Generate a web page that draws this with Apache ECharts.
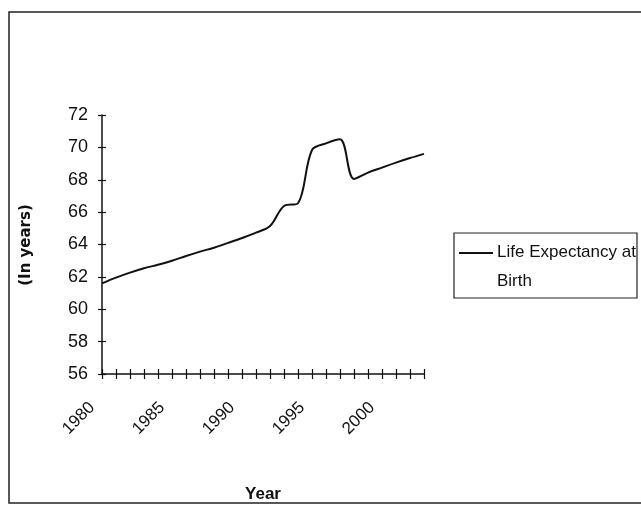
<!DOCTYPE html>
<html>
<head>
<meta charset="utf-8">
<script src="https://cdn.jsdelivr.net/npm/echarts@6/dist/echarts.min.js"></script>
<style>
  html, body { margin: 0; padding: 0; background: #fff; }
  #chart { width: 641px; height: 517px; }
</style>
</head>
<body>
<div id="chart"></div>
<script>
// Years on the category axis
const years = ['1980','1981','1982','1983','1984','1985','1986','1987','1988','1989',
  '1990','1991','1992','1993','1994','1995','1996','1997','1998','1999',
  '2000','2001','2002','2003'];

// Life expectancy at birth (in years)
const lifeExpectancy = [61.6, 61.95, 62.26, 62.53, 62.75, 63.0, 63.29, 63.56, 63.8, 64.1,
  64.4, 64.73, 65.14, 66.38, 66.55, 69.84, 70.25, 70.5, 68.05, 68.44,
  68.75, 69.06, 69.34, 69.6];

// Value axis ticks
const yTicks = [56, 58, 60, 62, 64, 66, 68, 70, 72];

const seriesName = 'Life Expectancy at Birth';
const sans = '"Liberation Sans", Arial, sans-serif';

const chart = echarts.init(document.getElementById('chart'), null, { renderer: 'canvas' });

chart.setOption({
  backgroundColor: '#ffffff',
  animation: false,
  graphic: [
    // outer chart frame
    {
      type: 'rect',
      shape: { x: 9, y: 12, width: 640, height: 491 },
      style: { fill: 'none', stroke: '#222', lineWidth: 1.5 }
    },
    // value axis title
    {
      type: 'text',
      x: 26, y: 245,
      rotation: Math.PI / 2,
      style: {
        text: '(In years)',
        font: 'bold 15px "DejaVu Sans", sans-serif',
        fill: '#111', align: 'center', verticalAlign: 'middle'
      }
    },
    // legend entry
    {
      type: 'line',
      shape: { x1: 459, y1: 253, x2: 493, y2: 253 },
      style: { stroke: '#111', lineWidth: 2 }
    },
    {
      type: 'text',
      left: 497, top: 244,
      style: { text: 'Life Expectancy at', font: '17px ' + sans, fill: '#111' }
    },
    {
      type: 'text',
      left: 497, top: 273,
      style: { text: 'Birth', font: '17px ' + sans, fill: '#111' }
    },
    // the legend box cuts off text that runs past its right edge
    {
      type: 'rect',
      shape: { x: 637, y: 236, width: 6, height: 60 },
      style: { fill: '#ffffff', stroke: 'none' }
    },
    {
      type: 'rect',
      shape: { x: 454, y: 233, width: 183, height: 65 },
      style: { fill: 'none', stroke: '#222', lineWidth: 1.2 }
    }
  ],
  grid: [{ left: 102, top: 115, right: 217, bottom: 143 }],
  xAxis: [
    {
      type: 'category',
      data: years,
      boundaryGap: false,
      name: 'Year',
      nameLocation: 'middle',
      nameGap: 112,
      nameTextStyle: { fontFamily: sans, fontWeight: 'bold', fontSize: 17, color: '#111' },
      axisLine: { lineStyle: { color: '#111', width: 1.5 } },
      axisTick: { show: true, length: 5, interval: 0, lineStyle: { color: '#111', width: 1.2 } },
      axisLabel: {
        interval: 4, rotate: 45, margin: 21,
        padding: [0, 14, 0, 0],
        fontFamily: sans, fontSize: 17, color: '#111'
      },
      splitLine: { show: false }
    },
    {
      type: 'category',
      data: years,
      boundaryGap: false,
      position: 'bottom',
      axisLine: { show: false },
      axisTick: { show: true, inside: true, length: 5, interval: 0, lineStyle: { color: '#111', width: 1.2 } },
      axisLabel: { show: false },
      splitLine: { show: false }
    }
  ],
  yAxis: [
    {
      type: 'value',
      min: yTicks[0],
      max: yTicks[yTicks.length - 1],
      interval: 2,
      axisLine: { show: true, lineStyle: { color: '#111', width: 1.5 } },
      axisTick: { show: true, length: 4, lineStyle: { color: '#111', width: 1.2 } },
      axisLabel: { margin: 14, fontFamily: sans, fontSize: 18, color: '#111' },
      splitLine: { show: false }
    },
    {
      type: 'value',
      min: yTicks[0],
      max: yTicks[yTicks.length - 1],
      interval: 2,
      position: 'left',
      axisLine: { show: false },
      axisTick: { show: true, inside: true, length: 4, lineStyle: { color: '#111', width: 1.2 } },
      axisLabel: { show: false },
      splitLine: { show: false }
    }
  ],
  series: [
    {
      name: seriesName,
      type: 'line',
      data: lifeExpectancy,
      smooth: 0.35,
      showSymbol: false,
      lineStyle: { color: '#111', width: 2 },
      itemStyle: { color: '#111' }
    }
  ]
});
</script>
</body>
</html>
